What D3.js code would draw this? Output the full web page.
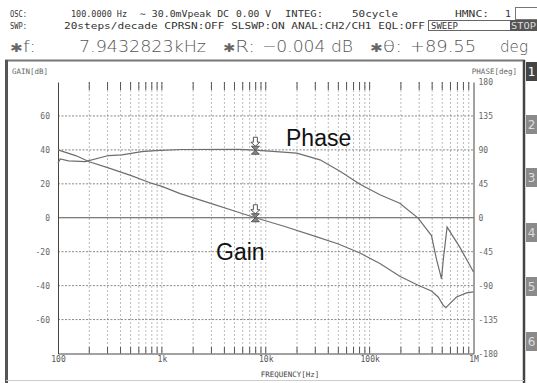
<!DOCTYPE html>
<html>
<head>
<meta charset="utf-8">
<script src="https://cdn.jsdelivr.net/npm/d3@7"></script>
<style>
  html, body { margin: 0; padding: 0; background: #fff; }
  svg { display: block; }
  .mono { font-family: "DejaVu Sans Mono", "Liberation Mono", monospace; }
</style>
</head>
<body>
<svg id="chart" width="537" height="383"></svg>
<script>
// Measured frequency response (CH2/CH1)
const gainFreq = [100, 150, 200, 300, 500, 780, 1000, 1500, 3000, 5000, 7943, 15000, 30000, 50000, 80700, 125600, 195000, 293000, 394000, 457000, 511000, 542000, 592000, 687000, 857000, 1000000];
const gainDb   = [40, 36.5, 33, 29.5, 25, 20.5, 18.5, 14.2, 8.3, 4, 0, -5, -11, -15.5, -20.8, -27, -34.5, -39.8, -43.2, -46.7, -51.6, -53, -50.6, -46.7, -44.3, -43.7];

const phaseFreq = [100, 105, 126, 183, 307, 412, 642, 862, 1560, 5600, 7943, 19900, 33300, 52300, 80700, 125600, 195000, 293000, 394000, 440000, 492000, 511000, 557000, 738000, 1000000];
const phaseDeg  = [72.4, 78, 75.4, 74.5, 82.5, 83.4, 87.8, 89, 90.5, 90.6, 89.55, 85.6, 76.8, 61.3, 44.5, 30.4, 19.3, -0.4, -23.6, -55, -81, -56.5, -12.4, -38.9, -72];

// Axis ticks
const gainTicks  = [-60, -40, -20, 0, 20, 40, 60];
const phaseTicks = [-180, -135, -90, -45, 0, 45, 90, 135, 180];
const decadeTicks = [100, 1e3, 1e4, 1e5, 1e6];
const decadeLabels = ["100", "1k", "10k", "100k", "1M"];

// Marker readout
const markerFreq = 7943.2823;
const markerGain = -0.004;
const markerPhase = 89.55;

const svg = d3.select("#chart");
const x = d3.scaleLog().domain([100, 1e6]).range([58, 473.5]);
const yGain = d3.scaleLinear().domain([-80, 80]).range([353.5, 82]);
const yPhase = d3.scaleLinear().domain([-180, 180]).range([353.5, 82]);

const minor = [];
for (let e = 2; e < 6; e++) for (let m = 1; m < 10; m++) {
  const v = m * Math.pow(10, e);
  if (v > 100 && v < 1e6) minor.push(v);
}

// ----- header -----
const hdr = svg.append("g").attr("class", "mono").attr("fill", "#333").attr("font-size", 9.5);
function seg(g, txt, x0, x1, y, size, fill) {
  return g.append("text").attr("x", x0).attr("y", y).attr("font-size", size || null)
    .attr("fill", fill || null)
    .attr("textLength", x1 - x0).attr("lengthAdjust", "spacingAndGlyphs").text(txt);
}
seg(hdr, "OSC:", 10, 27, 17);
seg(hdr, "100.0000 Hz", 71, 127, 17);
seg(hdr, "\u223C 30.0mVpeak DC", 140, 229, 17);
seg(hdr, "0.00 V", 236, 271, 17);
seg(hdr, "INTEG:", 285, 323, 17);
seg(hdr, "50cycle", 352, 398, 17);
seg(hdr, "HMNC:", 455, 489, 17);
seg(hdr, "1", 505, 511, 17);
hdr.append("rect").attr("x", 515.5).attr("y", 7.5).attr("width", 25).attr("height", 12)
  .attr("fill", "#fff").attr("stroke", "#777");

seg(hdr, "SWP:", 10, 27, 28.5);
seg(hdr, "20steps/decade CPRSN:OFF SLSWP:ON ANAL:CH2/CH1 EQL:OFF", 64, 425, 28.5);
hdr.append("rect").attr("x", 428.5).attr("y", 20.5).attr("width", 82).attr("height", 10)
  .attr("fill", "#fff").attr("stroke", "#666");
seg(hdr, "SWEEP", 431, 458, 28.5);
hdr.append("rect").attr("x", 510).attr("y", 20).attr("width", 27).attr("height", 11).attr("fill", "#555");
seg(hdr, "STOP", 511, 536, 28.5, null, "#ddd");

// marker readout line
const big = svg.append("g").attr("font-family", "DejaVu Sans, sans-serif").attr("fill", "#555").attr("font-size", 16).attr("font-weight", 300);
function starLabel(name, x0, x1) {
  const t = big.append("text").attr("x", x0).attr("y", 52)
    .attr("textLength", x1 - x0).attr("lengthAdjust", "spacingAndGlyphs");
  t.append("tspan").attr("font-size", 12).attr("fill", "#666").text("\u2731");
  t.append("tspan").text(name);
}
starLabel("f:", 10, 36);
seg(big, "7.9432823kHz", 79, 206, 52);
starLabel("R:", 223, 255);
seg(big, "\u22120.004 dB", 262, 353, 52);
starLabel("\u03B8:", 370, 402);
seg(big, "+89.55", 410, 476, 52);
seg(big, "deg", 500, 528, 52);

// ----- panel frame -----
svg.append("line").attr("x1", 5).attr("x2", 525).attr("y1", 60.5).attr("y2", 60.5).attr("stroke", "#777").attr("stroke-width", 2);
svg.append("line").attr("x1", 6.5).attr("x2", 6.5).attr("y1", 60).attr("y2", 383).attr("stroke", "#555").attr("stroke-width", 3);
svg.append("line").attr("x1", 524).attr("x2", 524).attr("y1", 60).attr("y2", 383).attr("stroke", "#444").attr("stroke-width", 2.5);
svg.append("line").attr("x1", 6).attr("x2", 524).attr("y1", 380.5).attr("y2", 380.5).attr("stroke", "#ccc").attr("stroke-width", 1);

// side tabs
const tabs = [1, 2, 3, 4, 5, 6];
const tabTop = [62, 115, 168, 223, 277, 332];
tabs.forEach((t, i) => {
  svg.append("rect").attr("x", 526).attr("y", tabTop[i]).attr("width", 11).attr("height", 19)
    .attr("fill", i === 0 ? "#444" : "#8a8a8a");
  svg.append("text").attr("x", 531.5).attr("y", tabTop[i] + 14).attr("text-anchor", "middle")
    .attr("font-family", "DejaVu Sans, sans-serif").attr("font-size", 12)
    .attr("fill", i === 0 ? "#fff" : "#ddd").text(t);
});

// axis titles
svg.append("text").attr("class", "mono").attr("x", 12).attr("y", 73.5).attr("font-size", 7.5).attr("fill", "#666").text("GAIN[dB]");
svg.append("text").attr("class", "mono").attr("x", 517).attr("y", 73.5).attr("text-anchor", "end").attr("font-size", 7.5).attr("fill", "#666").text("PHASE[deg]");
svg.append("text").attr("class", "mono").attr("x", 290).attr("y", 377).attr("text-anchor", "middle").attr("font-size", 7.5).attr("fill", "#444").text("FREQUENCY[Hz]");

// ----- grid -----
const grid = svg.append("g");
grid.selectAll("line.v").data(minor).join("line")
  .attr("x1", d => x(d)).attr("x2", d => x(d)).attr("y1", 82).attr("y2", 353.5)
  .attr("stroke", "#bbb").attr("stroke-width", 1).attr("stroke-dasharray", "2,2");
grid.selectAll("line.h").data(gainTicks.filter(d => d !== 0)).join("line")
  .attr("x1", 58).attr("x2", 473.5).attr("y1", d => yGain(d)).attr("y2", d => yGain(d))
  .attr("stroke", "#888").attr("stroke-width", 1).attr("stroke-dasharray", "2,1.5");
grid.append("line").attr("x1", 58).attr("x2", 473.5).attr("y1", yGain(0)).attr("y2", yGain(0))
  .attr("stroke", "#555").attr("stroke-width", 1);

// minor ticks top and bottom
grid.selectAll("line.tt").data(minor).join("line")
  .attr("x1", d => x(d)).attr("x2", d => x(d)).attr("y1", 82).attr("y2", 90)
  .attr("stroke", "#555");
grid.selectAll("line.tb").data(minor).join("line")
  .attr("x1", d => x(d)).attr("x2", d => x(d)).attr("y1", 347).attr("y2", 353.5)
  .attr("stroke", "#555");

// ----- axes -----
const axFont = g => g.attr("font-family", "DejaVu Sans Mono, monospace").attr("font-size", 8)
  .call(s => s.selectAll("text").attr("fill", "#666"))
  .call(s => s.select(".domain").attr("stroke", "#444"));

svg.append("g").attr("transform", "translate(58,0)")
  .call(d3.axisLeft(yGain).tickValues(gainTicks).tickSize(0).tickPadding(8).tickFormat(d => String(d)))
  .call(axFont);
svg.append("g").attr("transform", "translate(473.5,0)")
  .call(d3.axisRight(yPhase).tickValues(phaseTicks).tickSize(0).tickPadding(5).tickFormat(d => String(d)))
  .call(axFont);
svg.append("g").attr("transform", "translate(0,353.5)")
  .call(d3.axisBottom(x).tickValues(decadeTicks).tickSize(0).tickPadding(3)
    .tickFormat((d, i) => decadeLabels[i]))
  .call(axFont)
  .call(g => g.selectAll("text").attr("fill", "#555"));

// ----- curves -----
const gainLine = d3.line().x((d, i) => x(gainFreq[i])).y(d => yGain(d));
const phaseLine = d3.line().x((d, i) => x(phaseFreq[i])).y(d => yPhase(d));
svg.append("path").datum(gainDb).attr("d", gainLine)
  .attr("fill", "none").attr("stroke", "#6e6e6e").attr("stroke-width", 1.2);
svg.append("path").datum(phaseDeg).attr("d", phaseLine)
  .attr("fill", "none").attr("stroke", "#6e6e6e").attr("stroke-width", 1.2);

// ----- markers -----
function marker(cx, cy) {
  const g = svg.append("g").attr("transform", `translate(${cx},${cy})`)
    .attr("fill", "#fff").attr("stroke", "#555").attr("stroke-width", 1);
  g.append("path").attr("d", "M-2,-13 L2,-13 L2,-8 L4.5,-8 L0,-4 L-4.5,-8 L-2,-8 Z");
  g.append("path").attr("d", "M-4,-4 L4,-4 L0,0 L4,4 L-4,4 L0,0 Z").attr("fill", "#888");
}
marker(x(markerFreq), yGain(markerGain));
marker(x(markerFreq), yPhase(markerPhase));

// ----- curve names -----
svg.append("text").attr("x", 286).attr("y", 145.5).attr("font-family", "Liberation Sans, Arial, sans-serif")
  .attr("font-size", 23).attr("fill", "#111").text("Phase");
svg.append("text").attr("x", 216).attr("y", 260).attr("font-family", "Liberation Sans, Arial, sans-serif")
  .attr("font-size", 23).attr("fill", "#111").text("Gain");
</script>
</body>
</html>
